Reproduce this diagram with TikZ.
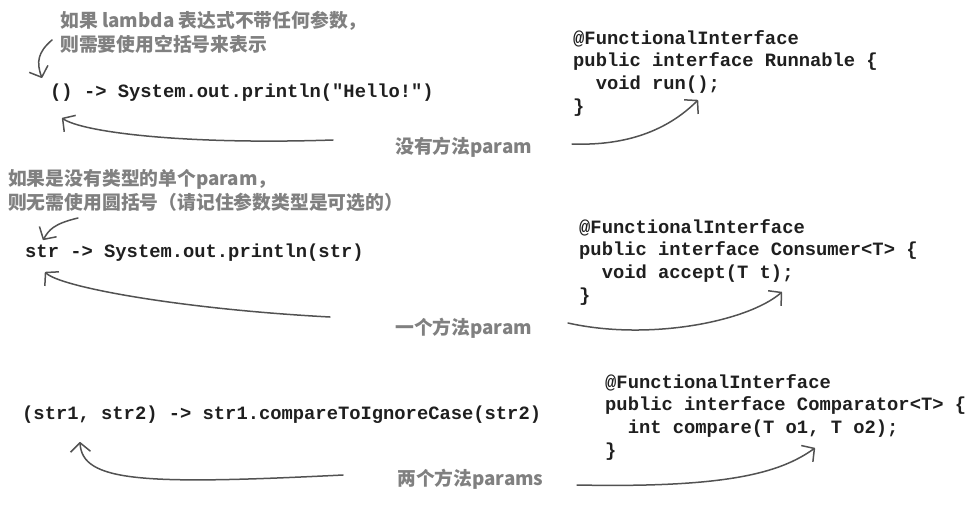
\documentclass[tikz,border=0pt]{standalone}
\usepackage{fontspec}
\newfontfamily\codefont{Liberation Mono}
\newfontfamily\notefont{Noto Sans CJK SC}
\usetikzlibrary{arrows.meta,calc}

\begin{document}
\begin{tikzpicture}[
      x=1pt, y=-1pt,
      code/.style={font=\codefont\bfseries\fontsize{18.8}{22.7}\selectfont,
                   text=black!88, inner sep=0pt, align=left},
      note/.style={font=\notefont\bfseries\fontsize{18.8}{24}\selectfont,
                   text=black!50, inner sep=0pt, align=left},
      hand/.style={draw=black!68, line width=1.5pt, line cap=round,
                   -{Straight Barb[length=9pt,width=20pt,line join=round]}}
  ]
      \useasboundingbox (0,0) rectangle (973,508);

      % Lambdas a esquerda
      \node[code, anchor=west] (lam1) at (50,93)  {() -> System.out.println("Hello!")};
      \node[code, anchor=west] (lam2) at (25,253) {str -> System.out.println(str)};
      \node[code, anchor=west] (lam3) at (22,415) {(str1, str2) -> str1.compareToIgnoreCase(str2)};

      % Interfaces funcionais a direita
      \node[code, anchor=north west] (fi1) at (573,30)
            {@FunctionalInterface\\public interface Runnable \{\\\hphantom{xx}void run();\\\}};
      \node[code, anchor=north west] (fi2) at (579,219)
            {@FunctionalInterface\\public interface Consumer<T> \{\\\hphantom{xx}void accept(T t);\\\}};
      \node[code, anchor=north west] (fi3) at (605,374)
            {@FunctionalInterface\\public interface Comparator<T> \{\\\hphantom{xx}int compare(T o1, T o2);\\\}};

      % Notas
      \node[note, anchor=north west] (note1) at (60,11)
            {如果 lambda 表达式不带任何参数，\\则需要使用空括号来表示};
      \node[note, anchor=north west] (note2) at (8,169)
            {如果是没有类型的单个param，\\则无需使用圆括号（请记住参数类型是可选的）};

      % Rotulos do meio
      \node[note, anchor=west] (lbl1) at (395,147) {没有方法param};
      \node[note, anchor=west] (lbl2) at (395,328) {一个方法param};
      \node[note, anchor=west] (lbl3) at (397,479) {两个方法params};

      % Setas
      \draw[hand] ($(note1.north west)+(-8,29)$) .. controls +(-14,12) and +(-6,-16) .. ($(lam1.west)+(-8,-15)$);
      \draw[hand] ($(lbl1.west)+(-62,-7)$) .. controls +(-150,5) and +(20,14) .. ($(lam1.west)+(12,25)$);
      \draw[hand] ($(lbl1.west)+(177,-3)$) .. controls +(55,2) and +(-30,30) .. ($(fi1.north west)+(125,70)$);

      \draw[hand] ($(note2.north west)+(70,49)$) .. controls +(-25,6) and +(6,-10) .. ($(lam2.west)+(18,-13)$);
      \draw[hand] ($(lbl2.west)+(-65,-11)$) .. controls +(-150,-8) and +(15,15) .. ($(lam2.west)+(20,19)$);
      \draw[hand] ($(lbl2.west)+(173,-5)$) .. controls +(80,18) and +(-35,30) .. ($(fi2.north west)+(203,73)$);

      \draw[hand] ($(lbl3.west)+(-54,-4)$) .. controls +(-200,10) and +(2,40) .. ($(lam3.west)+(58,27)$);
      \draw[hand] ($(lbl3.west)+(180,6)$) .. controls +(150,3) and +(-35,25) .. ($(fi3.north west)+(210,74)$);
  \end{tikzpicture}
\end{document}
